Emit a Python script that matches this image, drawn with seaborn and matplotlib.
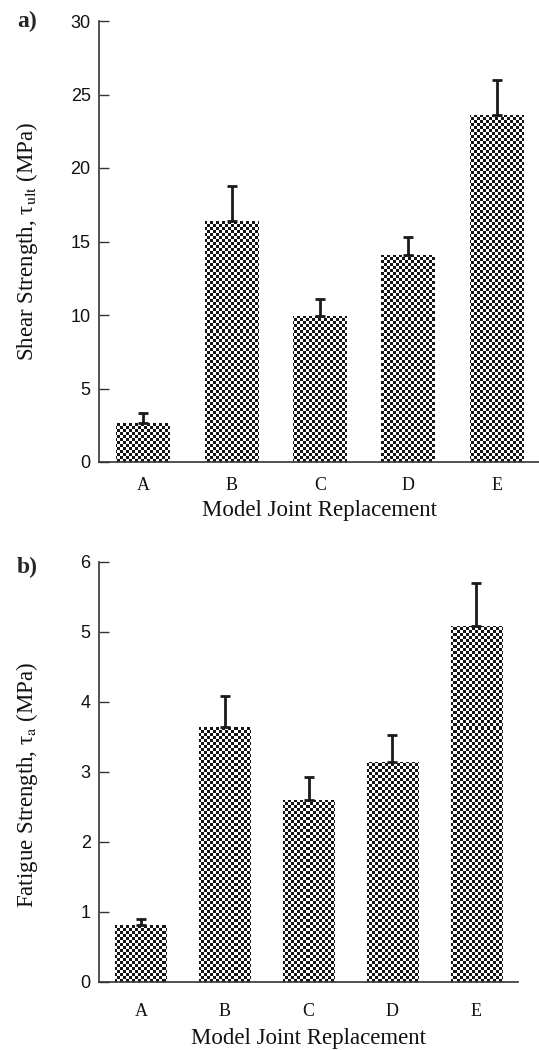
import numpy as np
import matplotlib
matplotlib.use("Agg")
import matplotlib.pyplot as plt
from matplotlib.colors import ListedColormap
import seaborn as sns
import pandas as pd

# ---- data ----
categories = ["A", "B", "C", "D", "E"]
shear_strength = [2.65, 16.4, 9.9, 14.1, 23.6]
shear_err = [0.65, 2.4, 1.22, 1.2, 2.4]
fatigue_strength = [0.81, 3.65, 2.6, 3.14, 5.09]
fatigue_err = [0.09, 0.44, 0.33, 0.39, 0.61]
shear_ticks = [0, 5, 10, 15, 20, 25, 30]
fatigue_ticks = [0, 1, 2, 3, 4, 5, 6]
xlabel_text = "Model Joint Replacement"
ylabel_a = "Shear Strength, τ$_{\\rm ult}$ (MPa)"
ylabel_b = "Fatigue Strength, τ$_{\\rm a}$ (MPa)"

sns.set_theme(style="ticks")
plt.rcParams['font.family'] = ['Liberation Serif', 'DejaVu Serif']
plt.rcParams['mathtext.fontset'] = 'stix'

W, H = 539, 1050
fig = plt.figure(figsize=(W / 100, H / 100), dpi=100)
ax_a = fig.add_axes([99 / W, (H - 462) / H, 442 / W, 441 / H])
ax_b = fig.add_axes([99 / W, (H - 982) / H, 419 / W, 420 / H])

checker_cmap = ListedColormap(['#151515', '#ffffff'])


def checker(ax, wpx, hpx, cell=3):
    yy, xx = np.mgrid[0:hpx, 0:wpx]
    board = ((xx // cell + yy // cell) % 2).astype(float)
    for bar in list(ax.patches):
        im = ax.imshow(board, cmap=checker_cmap, vmin=0, vmax=1,
                       extent=[0, 1, 0, 1], transform=ax.transAxes,
                       interpolation='nearest', aspect='auto',
                       zorder=bar.get_zorder() + 0.1)
        im.set_clip_path(bar)


def panel(ax, vals, errs, ticks, ylabel, wpx, hpx, tickpad, labelpad, ylab_y):
    df = pd.DataFrame({"cat": categories, "val": vals})
    sns.barplot(data=df, x="cat", y="val", ax=ax, color="#808080",
                width=0.61, errorbar=None, linewidth=0, saturation=1)
    checker(ax, wpx, hpx)
    ax.errorbar(x=np.arange(len(categories)), y=vals,
                yerr=[np.zeros(len(errs)), errs], fmt='none',
                ecolor='#1a1a1a', elinewidth=2.0, capsize=3.6, capthick=2.0,
                zorder=5)
    ax.set_xlim(-0.5, len(categories) - 0.5)
    ax.set_ylim(ticks[0], ticks[-1])
    ax.set_yticks(ticks)
    ax.tick_params(axis='y', direction='in', length=7.5, width=1.0,
                   color='#333333', labelsize=13, pad=6,
                   labelfontfamily='Liberation Sans', labelcolor='#111111')
    ax.tick_params(axis='x', length=0, labelsize=13, pad=tickpad,
                   labelcolor='#111111')
    ax.set_xlabel(xlabel_text, fontsize=16.5, labelpad=labelpad, color='#111111')
    ax.set_ylabel(ylabel, fontsize=16.5, color='#111111', va='center')
    ax.yaxis.set_label_coords(-(99 - 27) / wpx, ylab_y)
    sns.despine(ax=ax)
    for s in ['left', 'bottom']:
        ax.spines[s].set_color('#333333')
        ax.spines[s].set_linewidth(1.2)


panel(ax_a, shear_strength, shear_err, shear_ticks, ylabel_a, 442, 441, 11, 4, 0.5)
panel(ax_b, fatigue_strength, fatigue_err, fatigue_ticks, ylabel_b, 419, 420, 15, 6, 0.47)

fig.text(17 / W, 1 - 21 / H, "a)", fontsize=17, fontweight='bold', va='center', ha='left')
fig.text(17 / W, 1 - 567 / H, "b)", fontsize=17, fontweight='bold', va='center', ha='left')

fig.savefig("out.png", dpi=100)
